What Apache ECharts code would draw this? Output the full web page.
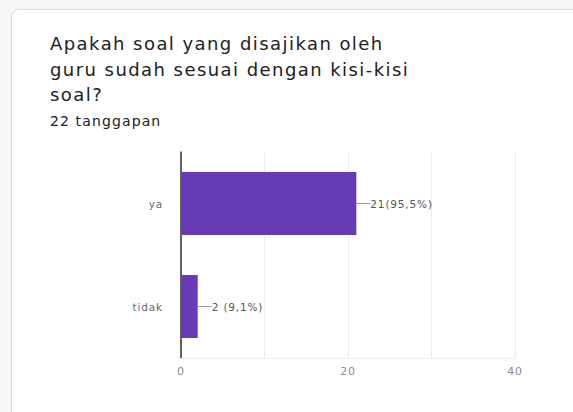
<!DOCTYPE html>
<html>
<head>
<meta charset="utf-8">
<script src="https://cdn.jsdelivr.net/npm/echarts@6/dist/echarts.min.js"></script>
<style>
  html, body { margin: 0; padding: 0; background: #f6f7f6; }
  #chart { width: 573px; height: 412px; }
  /* slightly airy lettering for every chart text */
  #chart text { letter-spacing: 0.08em; }
</style>
</head>
<body>
<div id="chart"></div>
<script>
// Survey answers and response counts
const categories = ['ya', 'tidak'];
const counts = [21, 2];
const labelTexts = ['21(95,5%)', '2 (9,1%)'];
const xTicks = [0, 20, 40];

const questionText = 'Apakah soal yang disajikan oleh\nguru sudah sesuai dengan kisi-kisi\nsoal?';
const responseText = '22 tanggapan';

const chart = echarts.init(document.getElementById('chart'), null, { renderer: 'svg' });

chart.setOption({
  animation: false,
  backgroundColor: 'transparent',
  graphic: [{
    type: 'rect',
    z: -10,
    shape: { x: 11.5, y: 9.5, width: 620, height: 430, r: 8 },
    style: { fill: '#ffffff', stroke: '#dcdcdc', lineWidth: 1.2 }
  }],
  title: [{
    text: questionText,
    left: 50,
    top: 31,
    padding: 0,
    textStyle: {
      fontFamily: 'DejaVu Sans',
      fontSize: 18,
      fontWeight: 'normal',
      color: '#202124',
      lineHeight: 25.5
    }
  }, {
    text: responseText,
    left: 50,
    top: 114,
    padding: 0,
    textStyle: {
      fontFamily: 'DejaVu Sans',
      fontSize: 14,
      fontWeight: 'normal',
      color: '#202124'
    }
  }],
  grid: { left: 181, right: 58, top: 152, bottom: 54, containLabel: false },
  xAxis: {
    type: 'value',
    min: 0,
    max: 40,
    interval: 10,
    axisLine: { show: true, lineStyle: { color: '#ececec', width: 1 } },
    axisTick: { show: false },
    splitLine: { show: true, lineStyle: { color: '#ececec', width: 1 } },
    axisLabel: {
      margin: 8,
      color: '#8a8a8a',
      fontFamily: 'DejaVu Sans',
      fontSize: 11,
      formatter: v => (xTicks.indexOf(v) >= 0 ? String(v) : '')
    }
  },
  yAxis: {
    type: 'category',
    data: categories,
    inverse: true,
    axisLine: { show: true, lineStyle: { color: '#333333', width: 1.5 } },
    axisTick: { show: false },
    axisLabel: {
      margin: 18,
      color: '#6a6a6a',
      fontFamily: 'DejaVu Sans',
      fontSize: 10.5
    }
  },
  series: [{
    type: 'bar',
    data: counts,
    barWidth: 63,
    itemStyle: { color: '#673ab7' },
    label: {
      show: true,
      position: 'right',
      distance: 0,
      color: '#555555',
      fontFamily: 'DejaVu Sans',
      fontSize: 10.5,
      formatter: p => labelTexts[p.dataIndex]
    },
    labelLayout: { dx: 14 },
    labelLine: { show: true, lineStyle: { color: '#9a9a9a', width: 1 } }
  }]
});
</script>
</body>
</html>
